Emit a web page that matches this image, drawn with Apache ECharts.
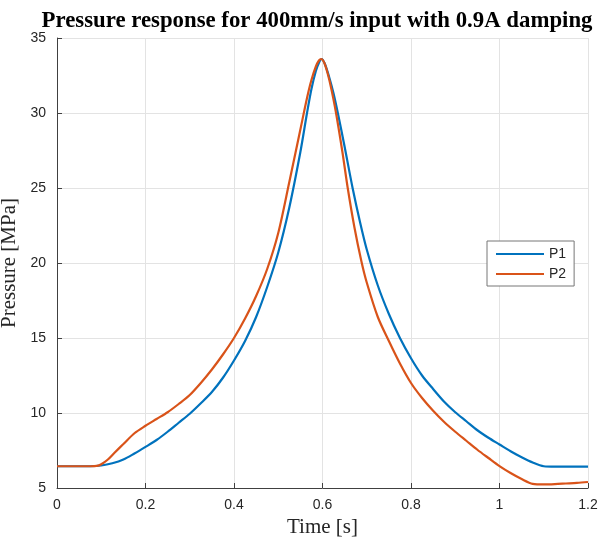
<!DOCTYPE html>
<html>
<head>
<meta charset="utf-8">
<script src="https://cdn.jsdelivr.net/npm/echarts@6/dist/echarts.min.js"></script>
<style>
html,body{margin:0;padding:0;background:#fff;}
#chart{width:598px;height:540px;}
</style>
</head>
<body>
<div id="chart"></div>
<script>
// Time samples [s] and pressures [MPa]
var timeP1 = [0, 0.025, 0.05, 0.075, 0.1, 0.125, 0.15, 0.175, 0.2, 0.225, 0.25, 0.275, 0.3, 0.325, 0.35, 0.375, 0.4, 0.425, 0.45, 0.475, 0.5, 0.525, 0.55, 0.565, 0.575, 0.585, 0.592, 0.598, 0.605, 0.615, 0.625, 0.635, 0.65, 0.668, 0.685, 0.7, 0.725, 0.75, 0.775, 0.8, 0.825, 0.85, 0.875, 0.9, 0.925, 0.95, 0.975, 1.0, 1.025, 1.05, 1.075, 1.1, 1.125, 1.15, 1.175, 1.2];
var pressureP1 = [6.45, 6.45, 6.45, 6.45, 6.5, 6.65, 6.9, 7.3, 7.74, 8.2, 8.75, 9.35, 9.95, 10.65, 11.4, 12.35, 13.5, 14.8, 16.4, 18.4, 20.7, 23.7, 27.4, 30, 31.6, 32.8, 33.35, 33.6, 33.3, 32.4, 31.3, 29.95, 27.75, 25, 22.7, 20.9, 18.5, 16.6, 15.0, 13.65, 12.5, 11.6, 10.75, 10.05, 9.45, 8.85, 8.35, 7.9, 7.45, 7.05, 6.7, 6.45, 6.42, 6.42, 6.42, 6.42];

var timeP2 = [0, 0.025, 0.05, 0.075, 0.09, 0.1, 0.115, 0.13, 0.15, 0.175, 0.2, 0.225, 0.25, 0.275, 0.3, 0.325, 0.35, 0.375, 0.4, 0.425, 0.45, 0.475, 0.5, 0.525, 0.55, 0.565, 0.575, 0.585, 0.592, 0.597, 0.604, 0.612, 0.62, 0.63, 0.645, 0.657, 0.672, 0.688, 0.7, 0.725, 0.75, 0.775, 0.8, 0.825, 0.85, 0.875, 0.9, 0.925, 0.95, 0.975, 1.0, 1.025, 1.05, 1.075, 1.1, 1.125, 1.15, 1.175, 1.2];
var pressureP2 = [6.45, 6.45, 6.45, 6.45, 6.47, 6.58, 6.9, 7.35, 7.93, 8.65, 9.15, 9.6, 10.05, 10.6, 11.2, 12.0, 12.9, 13.9, 15.0, 16.3, 17.8, 19.6, 22.0, 25.4, 28.9, 31.0, 32.2, 33.1, 33.5, 33.6, 33.35, 32.6, 31.6, 30.1, 27.4, 25.0, 22.4, 20.1, 18.7, 16.4, 14.8, 13.3, 12.0, 11.0, 10.15, 9.4, 8.75, 8.15, 7.55, 7.0, 6.46, 6.0, 5.6, 5.28, 5.24, 5.26, 5.3, 5.34, 5.4];

var seriesNames = ['P1', 'P2'];
var seriesColors = ['#0072BD', '#D95319'];
var titleText = 'Pressure response for 400mm/s input with 0.9A damping';
var xAxisName = 'Time [s]';
var yAxisName = 'Pressure [MPa]';

function pairs(t, v) {
  var out = [];
  for (var i = 0; i < t.length; i++) out.push([t[i], v[i]]);
  return out;
}

var chart = echarts.init(document.getElementById('chart'), null, {renderer: 'canvas'});
var axisColor = '#404040';
var labelFont = {color: '#262626', fontFamily: 'Liberation Sans, Arial, sans-serif', fontSize: 14};
var serifName = {fontFamily: 'Liberation Serif, Times New Roman, serif', fontSize: 21, color: '#262626'};

chart.setOption({
  animation: false,
  backgroundColor: '#ffffff',
  title: {
    text: titleText,
    left: 312,
    top: 5,
    textAlign: 'center',
    textStyle: {fontFamily: 'Liberation Serif, Times New Roman, serif', fontWeight: 'bold', fontSize: 22.8, color: '#000'}
  },
  legend: {
    orient: 'vertical',
    left: 487,
    top: 241,
    itemWidth: 48,
    itemHeight: 10,
    itemGap: 6,
    padding: [6, 8, 5, 8],
    borderColor: '#777',
    borderWidth: 1,
    backgroundColor: '#fff',
    itemStyle: {opacity: 0},
    textStyle: {color: '#262626', fontFamily: 'Liberation Sans, Arial, sans-serif', fontSize: 14},
    data: seriesNames
  },
  grid: {left: 57, top: 38, width: 531, height: 450, containLabel: false, outerBoundsMode: 'none'},
  xAxis: {
    type: 'value',
    min: 0, max: 1.2, interval: 0.2,
    name: xAxisName,
    nameLocation: 'middle',
    nameGap: 25,
    nameTextStyle: serifName,
    axisLine: {show: true, onZero: false, lineStyle: {color: axisColor, width: 1}},
    axisTick: {show: true, inside: true, length: 5, lineStyle: {color: axisColor}},
    axisLabel: Object.assign({margin: 10}, labelFont),
    splitLine: {show: true, lineStyle: {color: '#e3e3e3', width: 1}}
  },
  yAxis: {
    type: 'value',
    min: 5, max: 35, interval: 5,
    name: yAxisName,
    nameLocation: 'middle',
    nameGap: 28,
    nameTextStyle: serifName,
    axisLine: {show: true, lineStyle: {color: axisColor, width: 1}},
    axisTick: {show: true, inside: true, length: 5, lineStyle: {color: axisColor}},
    axisLabel: Object.assign({margin: 11}, labelFont),
    splitLine: {show: true, lineStyle: {color: '#e3e3e3', width: 1}}
  },
  series: [
    {
      name: seriesNames[0], type: 'line', data: pairs(timeP1, pressureP1),
      symbol: 'none', smooth: 0.3,
      lineStyle: {color: seriesColors[0], width: 2.2}, itemStyle: {color: seriesColors[0]}, z: 3
    },
    {
      name: seriesNames[1], type: 'line', data: pairs(timeP2, pressureP2),
      symbol: 'none', smooth: 0.3,
      lineStyle: {color: seriesColors[1], width: 2.2}, itemStyle: {color: seriesColors[1]}, z: 4
    }
  ]
});
</script>
</body>
</html>
